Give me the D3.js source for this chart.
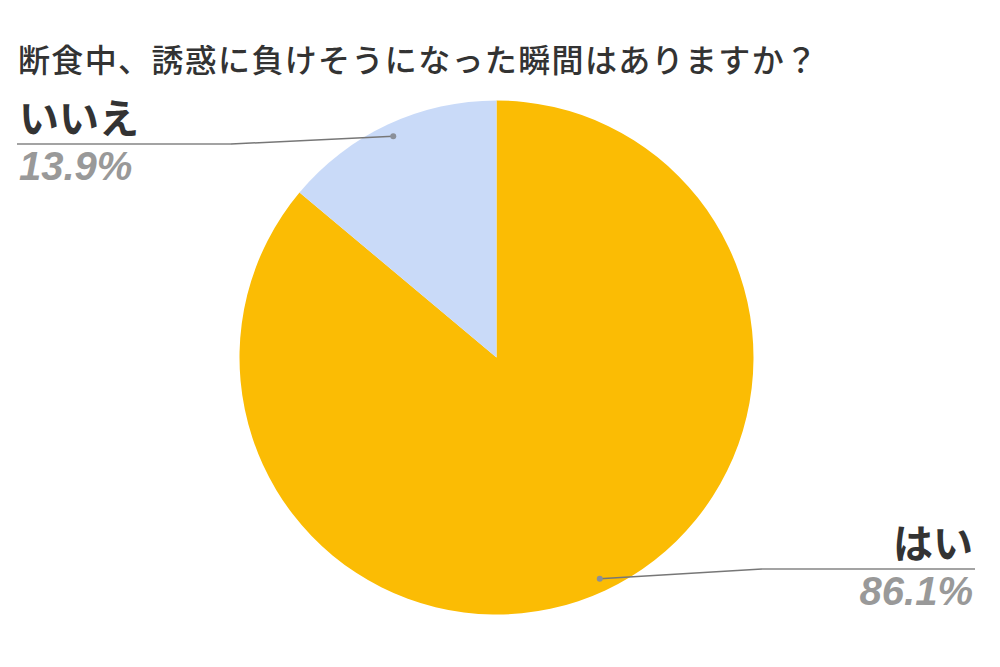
<!DOCTYPE html>
<html>
<head>
<meta charset="utf-8">
<script src="https://cdn.jsdelivr.net/npm/d3@7"></script>
<style>
  body { margin: 0; background: #fff; }
  svg { display: block; }
</style>
</head>
<body>
<div id="chart"></div>
<script>
const title = '断食中、誘惑に負けそうになった瞬間はありますか？';
const labels = ['はい', 'いいえ'];
const values = [86.1, 13.9];
const colors = ['#FBBC04', '#C9DAF8'];

const w = 1000;
const h = 667;
const cx = 496.5;
const cy = 357.5;
const radius = 257;

const jpFont = '"Noto Sans CJK JP", "Noto Sans", sans-serif';
const numFont = '"Liberation Sans", Arial, sans-serif';

const svg = d3.select('#chart')
  .append('svg')
  .attr('width', w)
  .attr('height', h);

// title
svg.append('text')
  .text(title)
  .attr('x', 18)
  .attr('y', 72)
  .attr('font-family', jpFont)
  .attr('font-size', 32)
  .attr('font-weight', 500)
  .attr('textLength', 799)
  .attr('fill', '#333');

const pie = d3.pie().sort(null).value(d => d);
const arcs = pie(values);
const arc = d3.arc().innerRadius(0).outerRadius(radius);
const dotArc = d3.arc().innerRadius(radius * 0.95).outerRadius(radius * 0.95);

const g = svg.append('g').attr('transform', 'translate(' + cx + ',' + cy + ')');

g.selectAll('path')
  .data(arcs)
  .enter()
  .append('path')
  .attr('d', arc)
  .attr('fill', (d, i) => colors[i]);

// label layout per side: elbow x, line y, text edge
const side = {
  right: { elbow: 762, lineY: 569, edge: 975, anchor: 'end' },
  left: { elbow: 231, lineY: 144, edge: 17, anchor: 'start' }
};

arcs.forEach((d, i) => {
  const c = dotArc.centroid(d);
  const px = cx + c[0];
  const py = cy + c[1];
  const s = c[0] > 0 ? side.right : side.left;

  svg.append('line')
    .attr('x1', px).attr('y1', py)
    .attr('x2', s.elbow).attr('y2', s.lineY)
    .attr('stroke', '#777')
    .attr('stroke-width', 1.5);

  svg.append('line')
    .attr('x1', s.elbow).attr('y1', s.lineY)
    .attr('x2', s.edge).attr('y2', s.lineY)
    .attr('stroke', '#a3a3a3')
    .attr('stroke-width', 2);

  svg.append('circle')
    .attr('cx', px).attr('cy', py)
    .attr('r', 3)
    .attr('fill', '#8a8f99');

  const tx = s.anchor === 'end' ? s.edge - 2 : s.edge + 2;

  svg.append('text')
    .text(labels[i])
    .attr('x', tx)
    .attr('y', s.lineY - 11)
    .attr('text-anchor', s.anchor)
    .attr('font-family', jpFont)
    .attr('font-size', 40)
    .attr('font-weight', 'bold')
    .attr('fill', '#333');

  svg.append('text')
    .text(values[i].toFixed(1) + '%')
    .attr('x', tx)
    .attr('y', s.lineY + 36)
    .attr('text-anchor', s.anchor)
    .attr('font-family', numFont)
    .attr('font-size', 40)
    .attr('font-weight', 'bold')
    .attr('font-style', 'italic')
    .attr('fill', '#999');
});
</script>
</body>
</html>
